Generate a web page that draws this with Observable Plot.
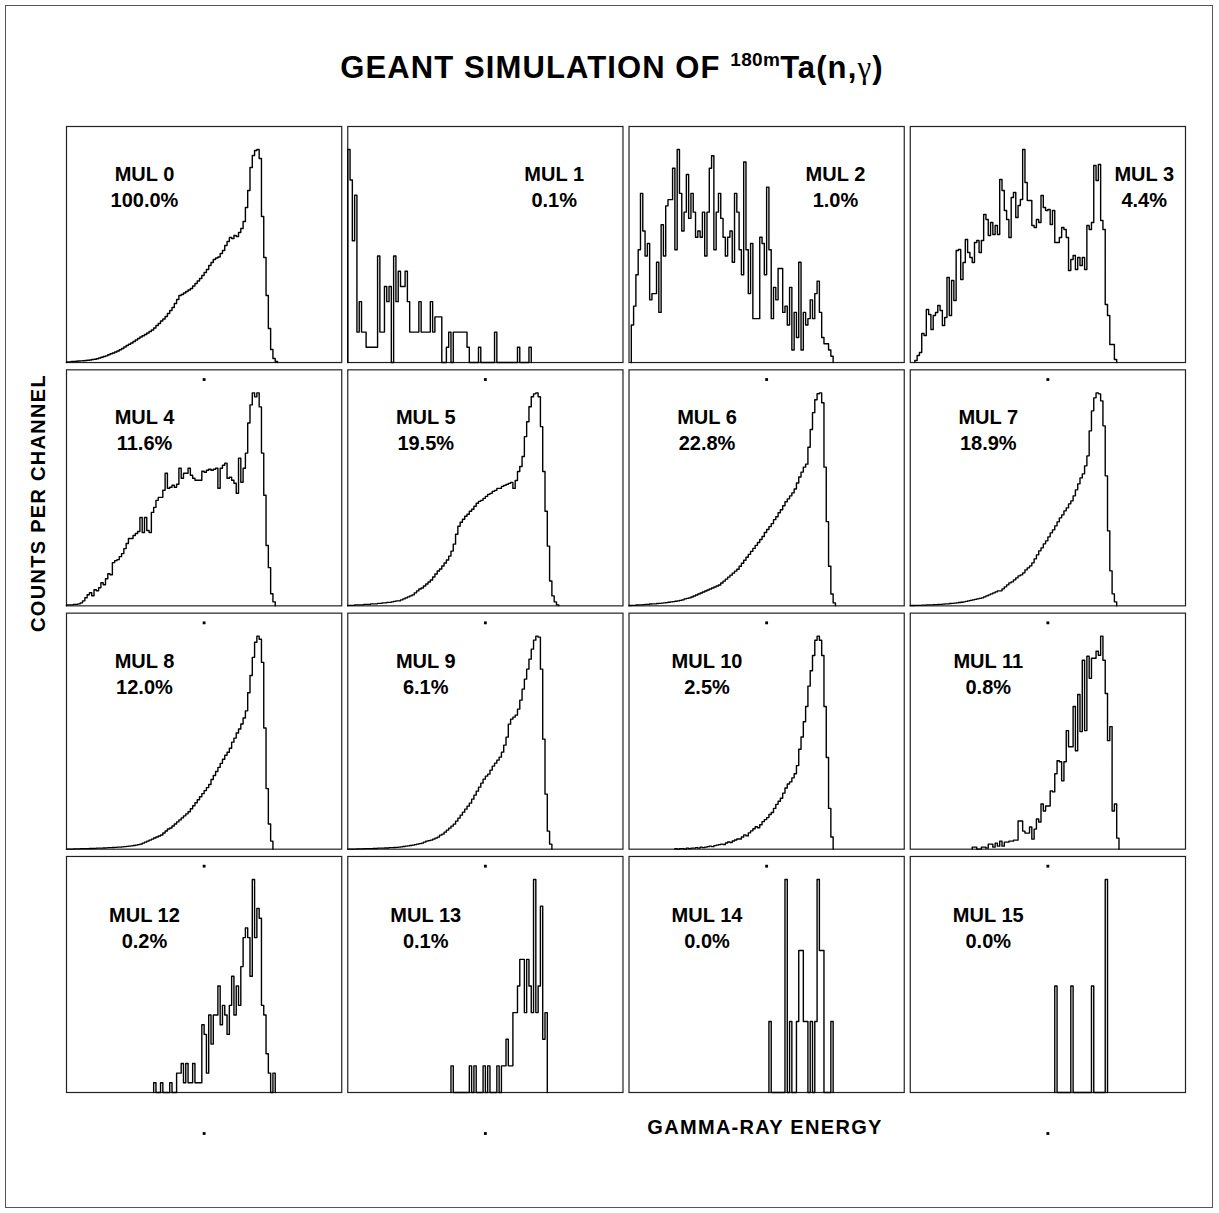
<!DOCTYPE html>
<html>
<head>
<meta charset="utf-8">
<script src="https://cdn.jsdelivr.net/npm/d3@7"></script>
<script src="https://cdn.jsdelivr.net/npm/@observablehq/plot@0.6"></script>
<style>
html,body{margin:0;padding:0;background:#fff;}
#page{position:relative;width:1219px;height:1213px;overflow:hidden;font-family:Arial,"Liberation Sans",Helvetica,sans-serif;color:#000;}
#border{position:absolute;left:5px;top:5px;width:1208px;height:1203px;border:1px solid #555;box-sizing:border-box;}
#chart{position:absolute;left:0;top:0;}
#title{position:absolute;left:0;top:50px;width:1224px;text-align:center;font-weight:bold;font-size:31px;letter-spacing:1.1px;line-height:36px;white-space:nowrap;}
#title sup{font-size:19px;vertical-align:0;position:relative;top:-12px;letter-spacing:0.3px;}
#title .g{font-family:"Liberation Serif","DejaVu Serif",serif;font-weight:normal;font-size:31px;}
#ylabel{position:absolute;left:38px;top:503px;transform:translate(-50%,-50%) rotate(-90deg);font-weight:bold;font-size:20px;letter-spacing:1.3px;line-height:22px;white-space:nowrap;}
#xlabel{position:absolute;left:765px;top:1127px;transform:translate(-50%,-50%);font-weight:bold;font-size:20px;letter-spacing:1.3px;line-height:22px;white-space:nowrap;}
</style>
</head>
<body>
<div id="page">
  <div id="border"></div>
  <div id="chart"></div>
  <div id="title">GEANT SIMULATION OF <sup>180m</sup>Ta(n,<span class="g">γ</span>)</div>
  <div id="ylabel">COUNTS PER CHANNEL</div>
  <div id="xlabel">GAMMA-RAY ENERGY</div>
</div>
<script>
// ---- data ----
const nChannels = 120;
const mulNames = ["MUL 0","MUL 1","MUL 2","MUL 3","MUL 4","MUL 5","MUL 6","MUL 7",
                  "MUL 8","MUL 9","MUL 10","MUL 11","MUL 12","MUL 13","MUL 14","MUL 15"];
const mulShares = ["100.0%","0.1%","1.0%","4.4%","11.6%","19.5%","22.8%","18.9%",
                   "12.0%","6.1%","2.5%","0.8%","0.2%","0.1%","0.0%","0.0%"];
const firstChannel = [0,0,1,2,0,0,0,0,0,0,20,27,38,45,61,63];
const energyTickChannels = [60];

const mul0 = [0.5,0.7,1,1,1.3,1.5,1.7,1.8,2,2.3, 2.6,3,3.3,3.8,4.5,5.3,6,6.7,7.7,8.7,
  9.5,10.5,11.5,12.7,14,15.5,17,18.3,19.5,21, 22.5,24,25.5,26.7,28,29.5,31,32.5,34.5,37,
  39,41.5,43.5,46,49,52,55,59,63,67, 68,69.5,71,72.5,74,76.5,79,81.5,84,87,
  90,93,97,100,103,104.5,105.5,109,112,117, 121,125,124,127,126,130,134,141,155,172,
  195,207,212,213,204,146,105,67,34,13, 4,1];
const mul1 = [14,12,8,11,2,4,2,2,1,1, 1,1,1,7,2,2,5,4,5,0, 7,4,6,5,5,6,4,2,2,2,
  2,4,2,2,2,2,4,2,3,3, 3,0,0,1,2,0,2,2,2,2, 2,2,1,0,0,0,0,1,0,0,
  0,0,0,0,2,0,0,0,0,0, 0,0,0,0,1,0,0,0,0,1];
const mul2 = [6,9,14,18,27,21,17,19,10,11, 11,16,8,22,17,25,26,26,31,18,
  34,27,21,24,30,23,27,24,20,21, 20,24,17,24,31,33,18,24,27,23,
  20,17,20,21,16,27,24,18,14,32, 18,11,19,7,7,7,20,19,14,28,
  18,7,12,10,15,15,8,9,6,12, 2,8,4,16,2,8,6,7,10,7, 11,13,8,4,3,3,2,1];
const mul3 = [2,7,10,29,27,53,48,33,47,50, 57,52,37,45,85,47,82,62,112,113,
  83,100,123,110,105,100,120,122,110,122, 148,143,127,140,128,137,128,183,172,152,
  143,125,165,170,145,157,163,213,180,162, 162,137,135,143,140,167,155,152,153,138,
  152,120,120,125,135,133,125,92,103,107, 93,105,97,105,93,137,133,140,197,182,
  198,142,133,58,47,18,18,3];
const mul4 = [1,1,1,1.5,1.5,2,3,5,8,11, 13,10,16,15,18,23,21,27,32,31,
  43,45,46,49,52,57,62,67,67,70, 72,74,88,73,88,75,73,93,98,105,
  108,108,115,132,117,118,120,118,121,137, 127,132,132,137,130,127,125,125,125,134,
  133,135,136,135,136,137,117,137,140,142, 127,128,125,122,112,147,123,137,152,182,
  200,212,208,212,198,152,110,60,38,12, 4];
const mul5 = [0.5,0.5,0.5,1,1,1,1,1.5,1.5,1.5,2, 2,2,2.5,2.5,3,3,3.5,3.5,4,4.5,
  5,5,6,7,8,9,10,11,13,15, 17,18,20,22,24,26,29,32,35,37,
  40,43,46,50,55,62,72,80,84,87, 90,92,95,97,100,103,105,106,108,110,
  112,113,115,116,118,118,120,121,122,123, 124,118,126,135,140,150,170,185,200,210,
  213,214,210,180,135,95,60,25,10,4,1];
const mul6 = [0.3,0.5,0.5,0.8,1,1,1.2,1.5,1.5,1.8, 2,2,2.3,2.5,2.8,3,3.3,3.6,4,4.3,
  4.7,5,5.5,6,7,7.5,8,9,10,11, 12,13,14,15,16,17,18,19,20,21,
  23,25,27,29,31,33,35,37,40,43, 46,49,52,55,58,61,64,67,70,74,
  77,80,83,87,90,94,97,101,105,108, 111,114,118,124,130,135,140,143,160,178,
  195,208,214,215,205,140,85,40,12,3];
const mul7 = [0.3,0.3,0.5,0.5,0.5,0.7,0.7,1,1,1, 1.2,1.2,1.5,1.5,1.7,2,2,2.3,2.5,2.7,
  3,3.3,3.6,4,4.5,5,5.5,6,6.5,7, 7.5,8,9,10,11,12,13,14,15,15,
  17,19,21,23,24,26,28,30,31,33, 36,38,40,43,47,51,55,58,62,65,
  69,73,76,80,84,88,91,95,98,102, 105,110,116,122,128,132,140,150,175,195,
  208,213,212,205,180,130,75,35,12,4];
const mul8 = [0,0,0,0.3,0.3,0.3,0.5,0.5,0.5,0.5, 0.7,0.7,0.8,1,1,1,1.2,1.3,1.5,1.5,
  1.7,1.8,2,2,2.3,2.5,2.8,3,3.3,3.6, 4,4.5,5,6,7,8,9,10,11,12,
  13,14,16,18,20,21,23,25,27,29, 31,33,35,37,40,43,46,49,52,55,
  58,61,64,69,73,77,81,85,89,93, 96,100,106,110,115,119,124,130,137,155,
  172,190,205,211,208,185,120,60,25,8];
const mul9 = [0,0,0,0,0.3,0.3,0.3,0.5,0.5,0.5, 0.5,0.7,0.7,1,1,1,1.2,1.2,1.5,1.5,
  1.7,1.8,2,2.3,2.6,3,3.3,3.7,4,4.5, 5,5.5,6,7,8,8.5,9,10,11,12,
  14,15,17,19,21,23,25,28,31,34, 37,40,43,46,50,54,58,62,66,70,
  73,75,79,83,86,89,92,97,104,112, 125,130,132,134,140,149,160,170,180,190,
  200,209,213,212,180,110,55,18,5];
const mul10 = [0.5,0,0.5,0.5,0,1,0.5,1,1,1.5, 1,2,1.5,2,2.5,3,2.5,3.5,4,4.5,
  5,4.5,6,7,6.5,8,9,10,10,12, 14,13,16,18,20,22,21,24,27,29,
  31,34,36,40,44,47,50,55,60,64, 66,70,74,82,98,110,125,140,160,175,
  190,205,209,205,190,140,90,40,12];
const mul11 = [2,2,0,0,2,2,1,5,5,2, 6,3,8,3,7,7,8,8,9,9,
  28,28,18,16,16,22,10,20,30,27, 45,38,43,43,58,57,75,88,87,68,
  87,118,102,102,142,98,154,117,188,118, 192,170,190,190,197,193,212,188,155,108,
  122,38,45,11];
const mul12 = [1,0,0,1,0,0,0,1,0,0, 2,2,3,1,3,1,1,3,1,1, 1,7,6,2,8,5,8,8,11,7,
  9,8,6,9,12,8,11,9,13,16, 17,16,12,22,16,19,18,9,8,4, 2,0,2];
const mul13 = [1,0,0,0,0,0,0,0,1,0, 1,0,0,0,1,0,1,0,0,0, 1,0,1,1,2,1,1,3,3,4,
  5,5,3,5,4,3,8,3,4,7, 2,3];
const mul14 = [1,0,0,0,0,0,0,3,0,1, 0,0,1,2,2,1,1,0,1,0, 1,3,2,2,0,0,0,1];
const mul15 = [1,0,0,0,0,0,0,1,0,0, 0,0,0,0,0,0,1,0,0,0, 0,0,2];

// ---- build plot table ----
const series = [mul0,mul1,mul2,mul3,mul4,mul5,mul6,mul7,mul8,mul9,mul10,mul11,mul12,mul13,mul14,mul15];
const histRows = [];
series.forEach((counts, m) => {
  const peak = d3.max(counts);
  const start = firstChannel[m];
  const col = m % 4, row = Math.floor(m / 4);
  histRows.push({m, col, row, ch: start, v: 0});
  counts.forEach((c, i) => histRows.push({m, col, row, ch: start + i, v: c / peak * 100}));
  histRows.push({m, col, row, ch: start + counts.length, v: 0});
});
const panels = mulNames.map((name, m) => ({m, col: m % 4, row: Math.floor(m / 4), name, share: mulShares[m]}));
const tickDots = panels.flatMap(p => energyTickChannels.map(t => ({...p, t})));
const labelX = d => (d.m === 3 ? 102 : (d.m === 1 || d.m === 2) ? 90 : 34);
const font = "Arial, 'Liberation Sans', Helvetica, sans-serif";
const textOpts = {x: labelX, fx: "col", fy: "row", frameAnchor: "top", textAnchor: "middle",
  lineAnchor: "middle", fontSize: 20, fontWeight: "bold", fill: "#000", fontFamily: font};
const upper = panels.filter(d => d.row < 3), lower = panels.filter(d => d.row === 3);

const chart = Plot.plot({
  width: 1219,
  height: 1213,
  marginLeft: 66,
  marginRight: 34,
  marginTop: 126,
  marginBottom: 121,
  style: {fontFamily: font, background: "transparent", overflow: "visible"},
  x: {domain: [0, nChannels], axis: null},
  y: {domain: [0, 110.8], axis: null},
  fx: {domain: [0, 1, 2, 3], axis: null, paddingInner: 0.0214, paddingOuter: 0, round: false},
  fy: {domain: [0, 1, 2, 3], axis: null, paddingInner: 0.03, paddingOuter: 0, round: false},
  marks: [
    Plot.frame({stroke: "#222", strokeWidth: 1.2}),
    Plot.line(histRows, {x: "ch", y: "v", z: "m", fx: "col", fy: "row", curve: "step-after",
      stroke: "#000", strokeWidth: 1.4}),
    Plot.text(upper, {...textOpts, text: "name", dy: 48}),
    Plot.text(upper, {...textOpts, text: "share", dy: 74}),
    Plot.text(lower, {...textOpts, text: "name", dy: 59}),
    Plot.text(lower, {...textOpts, text: "share", dy: 85}),
    Plot.dot(tickDots.filter(d => d.row < 3), {x: "t", fx: "col", fy: "row", frameAnchor: "bottom",
      dy: 17, symbol: "square", r: 1.6, fill: "#000", stroke: "none"}),
    Plot.dot(tickDots.filter(d => d.row === 3 && d.col !== 2), {x: "t", fx: "col", fy: "row", frameAnchor: "bottom",
      dy: 41, symbol: "square", r: 1.6, fill: "#000", stroke: "none"})
  ]
});
document.getElementById("chart").appendChild(chart);
</script>
</body>
</html>
